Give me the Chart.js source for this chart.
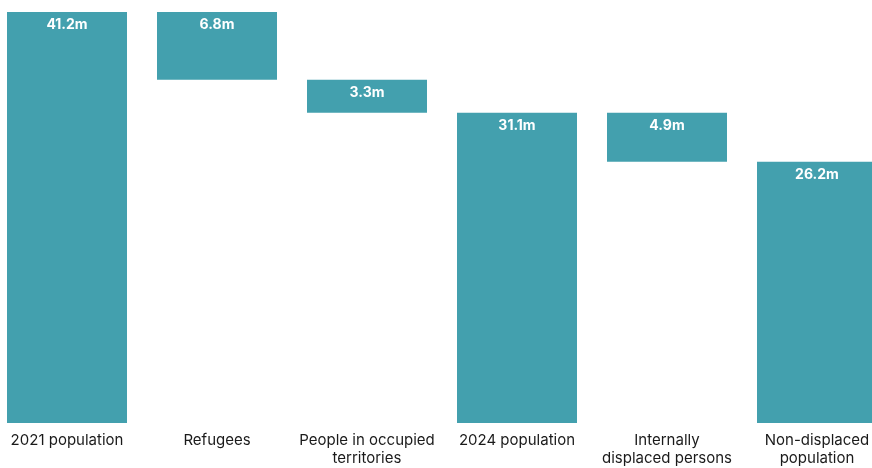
<!DOCTYPE html>
<html>
<head>
<meta charset="utf-8">
<script src="https://cdn.jsdelivr.net/npm/chart.js@4"></script>
<style>
  html, body { margin: 0; padding: 0; background: #fff; overflow: hidden; }
  #wrap { position: absolute; left: -8px; top: 0; width: 900px; height: 468px; }
</style>
</head>
<body>
<div id="wrap"><canvas id="myChart"></canvas></div>
<script>
// categories and values (millions)
const categories = [
  '2021 population',
  'Refugees',
  ['People in occupied', 'territories'],
  '2024 population',
  ['Internally', 'displaced persons'],
  ['Non-displaced', 'population']
];
const values = [41.2, 6.8, 3.3, 31.1, 4.9, 26.2];
// 'total' bars start at zero, 'drop' bars hang from the previous level
const barTypes = ['total', 'drop', 'drop', 'total', 'drop', 'total'];
const valueLabels = ['41.2m', '6.8m', '3.3m', '31.1m', '4.9m', '26.2m'];

function buildRanges() {
  let level = 0;
  return values.map(function(v, i) {
    if (barTypes[i] === 'total') {
      level = v;
      return [0, v];
    }
    const top = level;
    level = top - v;
    return [level, top];
  });
}

const barLabelPlugin = {
  id: 'barLabels',
  afterDatasetsDraw(chart) {
    const ctx = chart.ctx;
    const meta = chart.getDatasetMeta(0);
    ctx.save();
    ctx.fillStyle = '#ffffff';
    ctx.font = 'bold 14px Inter, "Liberation Sans", sans-serif';
    ctx.textAlign = 'center';
    ctx.textBaseline = 'middle';
    meta.data.forEach(function(bar, i) {
      const top = Math.min(bar.y, bar.base);
      ctx.fillText(valueLabels[i], bar.x, top + 13);
    });
    ctx.restore();
  }
};

document.addEventListener('DOMContentLoaded', function() {
  const ctx = document.getElementById('myChart').getContext('2d');
  new Chart(ctx, {
    type: 'bar',
    data: {
      labels: categories,
      datasets: [{
        data: buildRanges(),
        backgroundColor: '#43a0ae',
        borderWidth: 0,
        barPercentage: 0.8,
        categoryPercentage: 1.0
      }]
    },
    options: {
      responsive: true,
      maintainAspectRatio: false,
      animation: false,
      layout: { padding: { top: 12, left: 0, right: 0, bottom: 0 } },
      plugins: { legend: { display: false }, tooltip: { enabled: false } },
      scales: {
        y: { display: false, min: 0, max: 41.2 },
        x: {
          grid: { display: false, drawTicks: false },
          border: { display: false },
          ticks: {
            padding: 8,
            maxRotation: 0,
            autoSkip: false,
            color: '#1a1a1a',
            font: { family: 'Inter, "Liberation Sans", sans-serif', size: 15, lineHeight: 1.2 }
          },
          afterFit: function(scale) { scale.height = 45; }
        }
      }
    },
    plugins: [barLabelPlugin]
  });
});
</script>
</body>
</html>
